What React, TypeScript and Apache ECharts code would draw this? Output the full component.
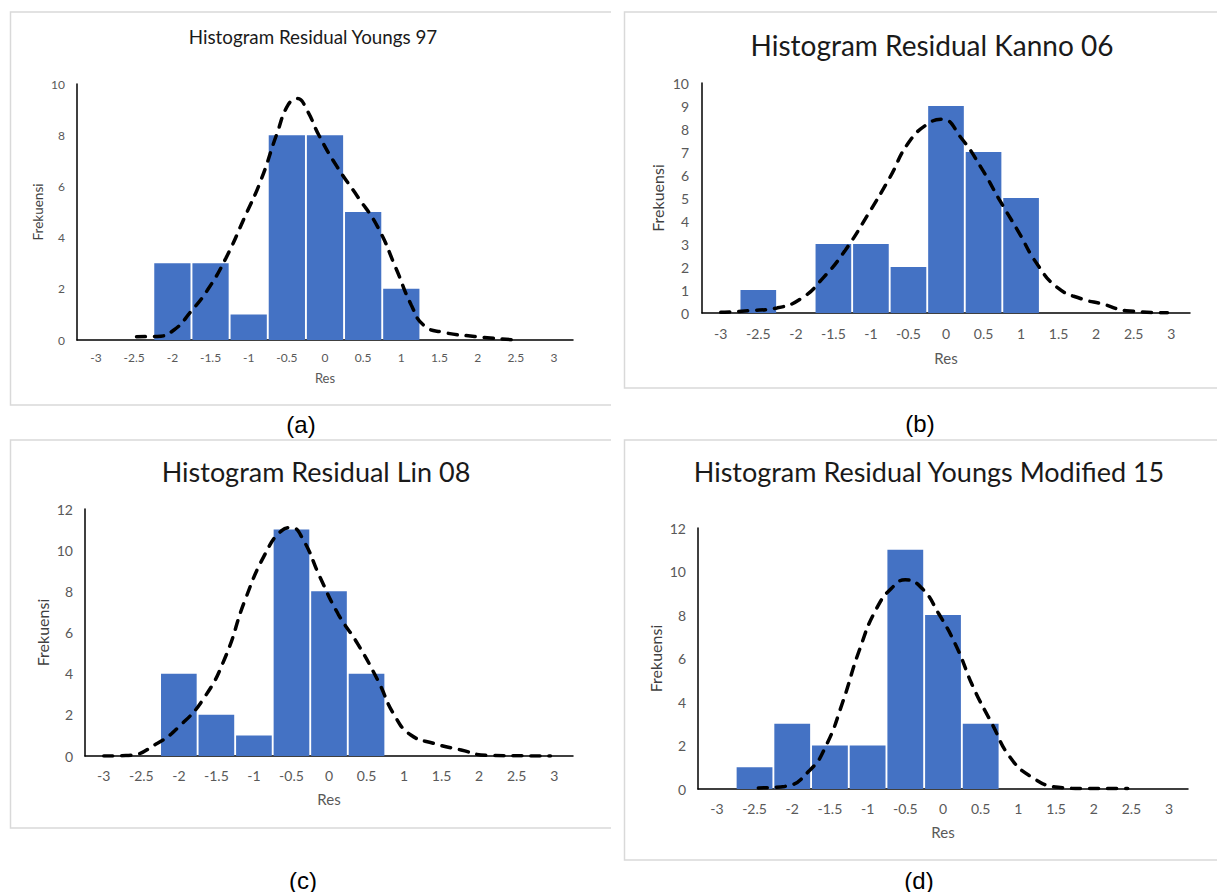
import React, { useEffect, useRef } from 'react';
import * as echarts from 'echarts';

// ---------- data ----------
const categories = ['-3', '-2.5', '-2', '-1.5', '-1', '-0.5', '0', '0.5', '1', '1.5', '2', '2.5', '3'];

const freqYoungs97 = [0, 0, 3, 3, 1, 8, 8, 5, 2, 0, 0, 0, 0];
const freqKanno06 = [0, 1, 0, 3, 3, 2, 9, 7, 5, 0, 0, 0, 0];
const freqLin08 = [0, 0, 4, 2, 1, 11, 8, 4, 0, 0, 0, 0, 0];
const freqYoungsMod15 = [0, 1, 3, 2, 2, 11, 8, 3, 0, 0, 0, 0, 0];

const curveYoungs97 = [
  [-2.47, 0.13], [-2.2, 0.14], [-1.98, 0.39], [-1.76, 1.1], [-1.54, 1.95], [-1.3, 3.19],
  [-1.06, 4.75], [-0.84, 6.24], [-0.63, 8.06], [-0.48, 9.2], [-0.36, 9.43], [-0.24, 9.0],
  [-0.08, 8.0], [0.16, 6.76], [0.43, 5.59], [0.69, 4.42], [0.93, 2.8], [1.13, 1.37],
  [1.3, 0.56], [1.55, 0.3], [1.96, 0.14], [2.46, 0.01],
];
const curveKanno06 = [
  [-3.0, 0.03], [-2.63, 0.1], [-2.25, 0.22], [-1.92, 0.65], [-1.63, 1.55], [-1.35, 2.69],
  [-1.04, 4.28], [-0.75, 5.88], [-0.5, 7.4], [-0.24, 8.23], [-0.05, 8.42], [0.2, 7.62],
  [0.47, 6.31], [0.71, 4.93], [0.96, 3.56], [1.22, 2.1], [1.49, 1.09], [1.8, 0.62],
  [2.1, 0.38], [2.4, 0.1], [2.95, 0.01],
];
const curveLin08 = [
  [-3.0, 0], [-2.67, 0.03], [-2.29, 0.61], [-2.0, 1.42], [-1.67, 2.79], [-1.38, 4.81],
  [-1.12, 7.56], [-0.85, 9.82], [-0.63, 10.95], [-0.5, 11.1], [-0.35, 10.55], [-0.12, 8.69],
  [0.12, 6.91], [0.38, 5.46], [0.65, 3.68], [0.87, 1.99], [1.09, 1.02], [1.4, 0.61],
  [1.76, 0.29], [2.11, 0.03], [2.95, 0],
];
const curveYoungsMod15 = [
  [-2.45, 0.05], [-2.1, 0.12], [-1.77, 0.85], [-1.55, 2.0], [-1.33, 4.0], [-1.11, 6.38],
  [-0.88, 8.31], [-0.66, 9.31], [-0.5, 9.62], [-0.28, 9.23], [-0.06, 8.08], [0.18, 6.54],
  [0.4, 4.69], [0.65, 3.0], [0.89, 1.46], [1.18, 0.54], [1.53, 0.08], [1.9, 0.02], [2.45, 0.02],
];

const chartTitles = [
  'Histogram Residual Youngs 97',
  'Histogram Residual Kanno 06',
  'Histogram Residual Lin 08',
  'Histogram Residual Youngs Modified 15',
];
const panelTags = ['(a)', '(b)', '(c)', '(d)'];
const yMaxes = [10, 10, 12, 12];
const ySteps = [2, 1, 2, 2];
const xAxisName = 'Res';
const yAxisName = 'Frekuensi';

const freqs = [freqYoungs97, freqKanno06, freqLin08, freqYoungsMod15];
const curves = [curveYoungs97, curveKanno06, curveLin08, curveYoungsMod15];

// ---------- layout ----------
const layout = [
  {
    grid: { left: 77, top: 84, width: 496, height: 256 },
    title: { x: 313, y: 36, size: 18.8 },
    tick: 12, xNameSize: 13, yNameSize: 13.5, xNameGap: 31, yNameGap: 32, xLabelMargin: 11, yLabelMargin: 12,
    box: { x1: 10.5, y1: 12, x2: 611, y2: 405 }, tag: { x: 301, y: 424 },
  },
  {
    grid: { left: 702, top: 83, width: 488, height: 230 },
    title: { x: 932, y: 45, size: 28 },
    tick: 14, xNameSize: 15, yNameSize: 16, xNameGap: 37, yNameGap: 37, xLabelMargin: 13, yLabelMargin: 13,
    box: { x1: 624.5, y1: 12, x2: 1217, y2: 388 }, tag: { x: 920, y: 423 },
  },
  {
    grid: { left: 85, top: 509, width: 488, height: 247 },
    title: { x: 316, y: 471, size: 27 },
    tick: 14, xNameSize: 15, yNameSize: 16, xNameGap: 35, yNameGap: 35, xLabelMargin: 12, yLabelMargin: 12,
    box: { x1: 10.5, y1: 440, x2: 611, y2: 828 }, tag: { x: 303, y: 880 },
  },
  {
    grid: { left: 698, top: 528, width: 490, height: 261 },
    title: { x: 929, y: 471, size: 27 },
    tick: 14, xNameSize: 15, yNameSize: 16, xNameGap: 35, yNameGap: 35, xLabelMargin: 12, yLabelMargin: 12,
    box: { x1: 624.5, y1: 440, x2: 1217, y2: 860 }, tag: { x: 919, y: 880 },
  },
];

const FONT = 'Lato, "Open Sans", sans-serif';

export default function App() {
  const ref = useRef<HTMLDivElement>(null);

  useEffect(() => {
    if (!ref.current) return;
    const chart = echarts.init(ref.current, undefined, { renderer: 'svg' });

    const grids: any[] = [];
    const xAxes: any[] = [];
    const yAxes: any[] = [];
    const series: any[] = [];
    const graphics: any[] = [];

    layout.forEach((l, i) => {
      grids.push({ ...l.grid, containLabel: false, outerBoundsMode: 'none' });
      xAxes.push({
        type: 'category',
        gridIndex: i,
        data: categories,
        boundaryGap: true,
        axisTick: { show: false },
        axisLine: { show: true, onZero: false, lineStyle: { color: '#000', width: 1.5 } },
        axisLabel: { interval: 0, color: '#595959', fontSize: l.tick, fontFamily: FONT, margin: l.xLabelMargin },
        splitLine: { show: false },
        name: xAxisName,
        nameLocation: 'middle',
        nameGap: l.xNameGap,
        nameTextStyle: { color: '#595959', fontSize: l.xNameSize, fontFamily: FONT },
      });
      xAxes.push({
        type: 'value',
        gridIndex: i,
        min: -3.25,
        max: 3.25,
        show: false,
        axisLine: { show: false, onZero: false },
      });
      yAxes.push({
        type: 'value',
        gridIndex: i,
        min: 0,
        max: yMaxes[i],
        interval: ySteps[i],
        axisLine: { show: true, onZero: false, lineStyle: { color: '#000', width: 1.5 } },
        axisTick: { show: false },
        splitLine: { show: false },
        axisLabel: { color: '#595959', fontSize: l.tick, fontFamily: FONT, margin: l.yLabelMargin },
        name: yAxisName,
        nameLocation: 'middle',
        nameGap: l.yNameGap,
        nameTextStyle: { color: '#404040', fontSize: l.yNameSize, fontFamily: FONT },
      });
      series.push({
        type: 'bar',
        xAxisIndex: 2 * i,
        yAxisIndex: i,
        data: freqs[i],
        barCategoryGap: '5%',
        itemStyle: { color: '#4472C4' },
        z: 2,
      });
      series.push({
        type: 'line',
        xAxisIndex: 2 * i + 1,
        yAxisIndex: i,
        data: curves[i],
        smooth: 0.5,
        symbol: 'none',
        lineStyle: { color: '#000', width: 3.5, type: [9, 9], cap: 'round' },
        z: 3,
      });

      const b = l.box;
      graphics.push({
        type: 'polyline',
        shape: { points: [[b.x2, b.y1], [b.x1, b.y1], [b.x1, b.y2], [b.x2, b.y2]] },
        style: { stroke: '#d9d9d9', lineWidth: 1.5, fill: 'none' },
        silent: true,
      });
      graphics.push({
        type: 'text',
        x: l.title.x,
        y: l.title.y,
        style: {
          text: chartTitles[i],
          fill: '#1a1a1a',
          fontSize: l.title.size,
          fontFamily: FONT,
          textAlign: 'center',
          textVerticalAlign: 'middle',
        },
      });
      graphics.push({
        type: 'text',
        x: l.tag.x,
        y: l.tag.y,
        style: {
          text: panelTags[i],
          fill: '#000',
          fontSize: 24,
          fontFamily: '"Liberation Sans", Arial, sans-serif',
          textAlign: 'center',
          textVerticalAlign: 'middle',
        },
      });
    });

    chart.setOption({
      animation: false,
      backgroundColor: '#fff',
      grid: grids,
      xAxis: xAxes,
      yAxis: yAxes,
      series,
      graphic: graphics,
    });

    return () => chart.dispose();
  }, []);

  return (
    <div
      ref={ref}
      style={{ position: 'absolute', left: 0, top: 0, width: 1217, height: 892 }}
    />
  );
}
